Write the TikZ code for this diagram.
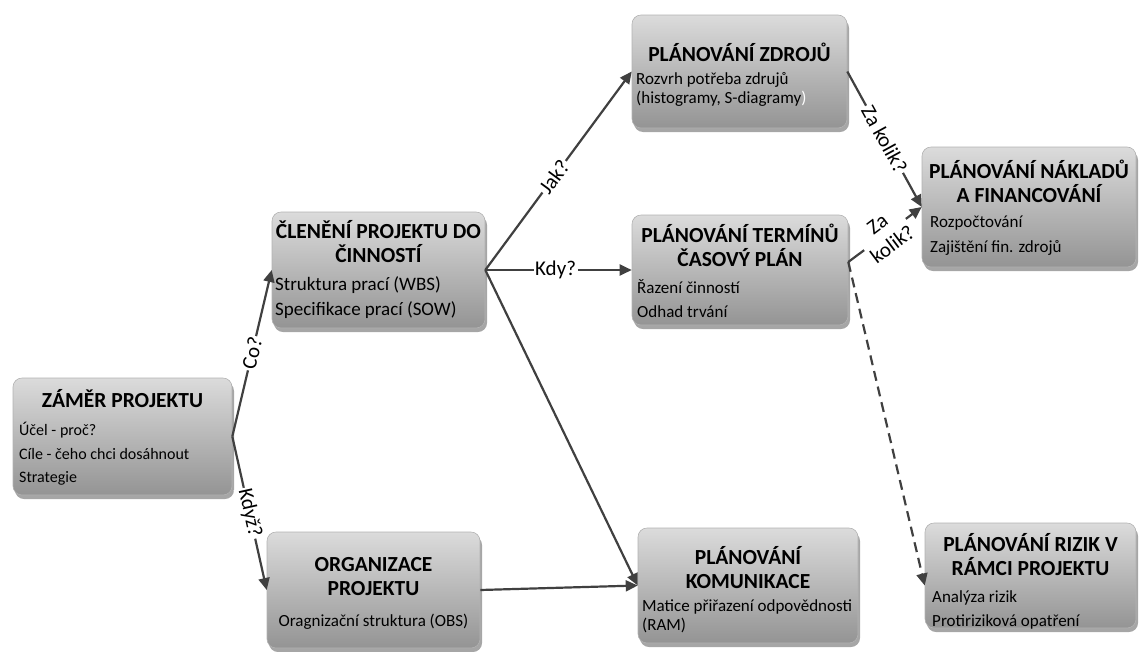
\documentclass[tikz,border=0pt]{standalone}
\usepackage{fontspec}
\setmainfont{Carlito}
\usetikzlibrary{arrows.meta,shadows,calc}
\definecolor{arrcol}{HTML}{404040}
\tikzset{
  box/.style={rectangle, rounded corners=9pt, top color=black!14, bottom color=black!42,
    draw=black!30, line width=0.6pt,
    drop shadow={shadow xshift=2pt, shadow yshift=-4pt, opacity=0.35, fill=black}},
  ttl/.style={inner sep=0pt, align=center, font=\bfseries\fontsize{21.5}{24}\selectfont},
  bod/.style={inner sep=0pt, align=left, anchor=west, font=\fontsize{17}{24}\selectfont},
  arr/.style={draw=arrcol, line width=2.2pt, -{Triangle[length=12pt,width=11pt]}},
  lbl/.style={fill=white, inner sep=1.5pt, sloped, font=\fontsize{21}{23}\selectfont, text=black}
}
\begin{document}
\begin{tikzpicture}[x=1pt,y=-1pt]
\useasboundingbox (0,0) rectangle (1139,651);
% boxes
\node[box, minimum width=219pt, minimum height=117pt] (zamer) at (122.5,436.5) {};
\node[box, minimum width=213pt, minimum height=116pt] (clen) at (378.5,270) {};
\node[box, minimum width=215pt, minimum height=113pt] (zdroj) at (739.5,71.5) {};
\node[box, minimum width=216pt, minimum height=110pt] (term) at (740,270) {};
\node[box, minimum width=214pt, minimum height=120pt] (nakl) at (1029,207) {};
\node[box, minimum width=213pt, minimum height=116pt] (org) at (373.5,590) {};
\node[box, minimum width=220pt, minimum height=115pt] (kom) at (748,585.5) {};
\node[box, minimum width=211pt, minimum height=105pt] (riz) at (1030.5,575.5) {};
% texts
\node[ttl] (zamer-t) at (122.5,399) {ZÁMĚR PROJEKTU};
\node[bod, font=\fontsize{16}{23.5}\selectfont] (zamer-b) at (19,454) {Účel - proč?\\Cíle - čeho chci dosáhnout\\Strategie};
\node[ttl] (clen-t) at (378.5,242) {ČLENĚNÍ PROJEKTU DO\\ČINNOSTÍ};
\node[bod, font=\fontsize{19}{25.5}\selectfont] (clen-b) at (275,297.5) {Struktura prací (WBS)\\Specifikace prací (SOW)};
\node[ttl] (zdroj-t) at (739.5,52) {PLÁNOVÁNÍ ZDROJŮ};
\node[bod, font=\fontsize{17}{19}\selectfont] (zdroj-b) at (636,89.5) {Rozvrh potřeba zdrujů\\(histogramy, S-diagramy\textcolor{white}{)}};
\node[ttl] (term-t) at (740,245) {PLÁNOVÁNÍ TERMÍNŮ\\ČASOVÝ PLÁN};
\node[bod] (term-b) at (637,298.5) {Řazení činností\\Odhad trvání};
\node[ttl] (nakl-t) at (1029,181) {PLÁNOVÁNÍ NÁKLADŮ\\A FINANCOVÁNÍ};
\node[bod, font=\fontsize{17}{25}\selectfont] (nakl-b) at (930,235.5) {Rozpočtování\\Zajištění fin. zdrojů};
\node[ttl] (org-t) at (373.5,577) {ORGANIZACE\\PROJEKTU};
\node[bod, anchor=center] (org-b) at (373.5,622) {Oragnizační struktura (OBS)};
\node[ttl] (kom-t) at (748,568) {PLÁNOVÁNÍ\\KOMUNIKACE};
\node[bod, font=\fontsize{17}{19}\selectfont] (kom-b) at (642,616) {Matice přiřazení odpovědnosti\\(RAM)};
\node[ttl] (riz-t) at (1030.5,555) {PLÁNOVÁNÍ RIZIK V\\RÁMCI PROJEKTU};
\node[bod] (riz-b) at (932,610) {Analýza rizik\\Protiriziková opatření};
% connectors
\draw[arr] (zamer.east) -- node[lbl, pos=0.5] {Co?} (clen.west);
\draw[arr] (zamer.east) -- node[lbl, pos=0.5] {Když?} (org.west);
\draw[arr] (clen.east) -- node[lbl, pos=0.47] {Jak?} (zdroj.west);
\draw[arr] (clen.east) -- node[lbl, pos=0.48] {Kdy?} (term.west);
\draw[arr] (clen.east) -- (kom.west);
\draw[arr] (org.east) -- (kom.west);
\draw[arr] (zdroj.east) -- node[lbl, pos=0.5] {Za kolik?} (nakl.west);
\coordinate (term-o) at ($(term.east)+(0,-8)$);
\draw[arr] (term-o) -- node[lbl, pos=0.5, align=center, font=\fontsize{21}{25}\selectfont] {Za\\kolik?} (nakl.west);
\draw[arr, dashed, dash pattern=on 10pt off 6pt] (term-o) -- ($(riz.west)+(0,10)$);
\end{tikzpicture}
\end{document}
